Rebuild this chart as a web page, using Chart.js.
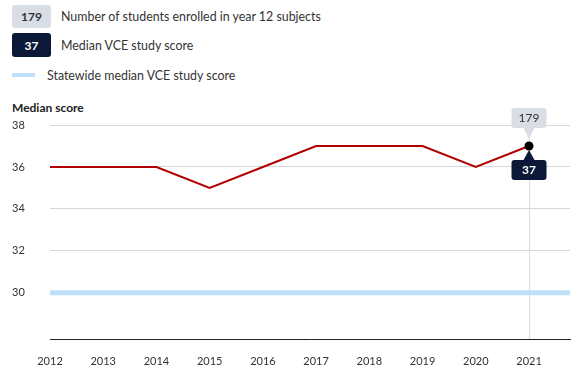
<!DOCTYPE html>
<html>
<head>
<meta charset="utf-8">
<script src="https://cdn.jsdelivr.net/npm/chart.js@4/dist/chart.umd.min.js"></script>
<style>
body { margin: 0; width: 576px; height: 381px; position: relative; overflow: hidden; background: #fff; font-family: Lato, sans-serif; color: #333; }
#wrap { position: absolute; left: 0; top: 0; width: 576px; height: 381px; }
.leg { position: absolute; left: 12px; display: flex; align-items: center; font-size: 12.4px; }
.box { width: 39px; height: 23px; border-radius: 3px; display: flex; align-items: center; justify-content: center; font-size: 12px; margin-right: 10px; }
.gray { background: #d9dde6; color: #333; font-weight: bold; }
.navy { background: #0c1838; color: #fff; font-weight: bold; }
.line { width: 23px; height: 4px; background: #bfe0f8; margin-right: 12px; }
#ytitle { position: absolute; left: 12px; top: 100px; font-size: 12px; font-weight: bold; color: #222; }
</style>
</head>
<body>
<div class="leg" style="top:5px"><div class="box gray">179</div>Number of students enrolled in year 12 subjects</div>
<div class="leg" style="top:33px"><div class="box navy" style="height:24px">37</div>Median VCE study score</div>
<div class="leg" style="top:66px;height:18px"><div class="line"></div>Statewide median VCE study score</div>
<div id="ytitle">Median score</div>
<div id="wrap"><canvas id="grafico"></canvas></div>
<script>
const grafico = document.querySelector("#grafico")

const years = [2012, 2013, 2014, 2015, 2016, 2017, 2018, 2019, 2020, 2021]
const medianScores = [36, 36, 36, 35, 36, 37, 37, 37, 36, 37]
const statewideMedian = 30
const enrolledLatest = 179
const yTicks = [30, 32, 34, 36, 38]

const last = years.length - 1

// statewide line + hover line behind the data
const fondo = {
    id: 'fondo',
    beforeDatasetsDraw(chart) {
        const ctx = chart.ctx
        const area = chart.chartArea
        const x = chart.scales.x.getPixelForValue(years[last])
        ctx.save()
        ctx.strokeStyle = '#dcdcdc'
        ctx.lineWidth = 1
        ctx.beginPath()
        ctx.moveTo(Math.round(x) + 0.5, area.top)
        ctx.lineTo(Math.round(x) + 0.5, area.bottom)
        ctx.stroke()
        const y = chart.scales.y.getPixelForValue(statewideMedian)
        ctx.strokeStyle = '#bfe0f8'
        ctx.lineWidth = 5
        ctx.beginPath()
        ctx.moveTo(area.left, y)
        ctx.lineTo(area.right, y)
        ctx.stroke()
        ctx.restore()
    }
}

// the two labels on the last point
const etiquetas = {
    id: 'etiquetas',
    afterDatasetsDraw(chart) {
        const ctx = chart.ctx
        const p = chart.getDatasetMeta(0).data[last]
        const x = p.x, y = p.y
        const w = 35, h = 20
        ctx.save()
        ctx.font = '12px Lato, sans-serif'
        ctx.textAlign = 'center'
        ctx.textBaseline = 'middle'

        ctx.fillStyle = '#d9dde6'
        ctx.beginPath()
        ctx.roundRect(x - w / 2, y - 38, w, h, 3)
        ctx.fill()
        ctx.beginPath()
        ctx.moveTo(x - 6, y - 19)
        ctx.lineTo(x + 6, y - 19)
        ctx.lineTo(x, y - 7)
        ctx.fill()
        ctx.fillStyle = '#333'
        ctx.fillText(String(enrolledLatest), x, y - 28)

        ctx.fillStyle = '#0c1838'
        ctx.beginPath()
        ctx.roundRect(x - w / 2, y + 14, w, h, 3)
        ctx.fill()
        ctx.beginPath()
        ctx.moveTo(x - 6, y + 15)
        ctx.lineTo(x + 6, y + 15)
        ctx.lineTo(x, y + 4)
        ctx.fill()
        ctx.fillStyle = '#fff'
        ctx.font = 'bold 12px Lato, sans-serif'
        ctx.fillText(String(medianScores[last]), x, y + 24)
        ctx.restore()
    }
}

const data = {
    datasets: [
        {
            label: 'Median VCE study score',
            data: years.map((a, i) => ({ x: a, y: medianScores[i] })),
            tension: 0,
            borderColor: '#b00000',
            borderWidth: 2,
            pointRadius: c => c.dataIndex === last ? 4.5 : 0,
            pointBackgroundColor: '#000',
            pointBorderColor: '#000',
            pointBorderWidth: 0,
        },
    ]
}

const config = {
    type: 'line',
    data: data,
    plugins: [fondo, etiquetas],
    options: {
        responsive: true,
        maintainAspectRatio: false,
        animation: false,
        events: [],
        layout: { padding: { left: 12, right: 6, top: 125, bottom: 0 } },
        plugins: { legend: { display: false }, tooltip: { enabled: false } },
        scales: {
            x: {
                type: 'linear',
                min: 2012,
                max: 2021.77,
                afterFit(s) { s.height = 42 },
                grid: { display: false, drawTicks: false },
                border: { display: true, color: '#222', width: 1 },
                ticks: {
                    stepSize: 1,
                    includeBounds: false,
                    autoSkip: false,
                    maxRotation: 0,
                    padding: 16,
                    color: '#333',
                    font: { family: 'Lato', size: 11 },
                    callback: v => String(v),
                },
            },
            y: {
                min: 27.8,
                max: 38,
                afterFit(s) { s.width = 38 },
                afterBuildTicks(s) { s.ticks = yTicks.map(v => ({ value: v })) },
                grid: { color: '#d6d6d6', drawTicks: false },
                border: { display: false },
                ticks: {
                    crossAlign: 'far',
                    padding: 0,
                    color: '#333',
                    font: { family: 'Lato', size: 11 },
                },
            },
        },
    },
}

const graficoGeral = new Chart(grafico, config)
</script>
</body>
</html>
